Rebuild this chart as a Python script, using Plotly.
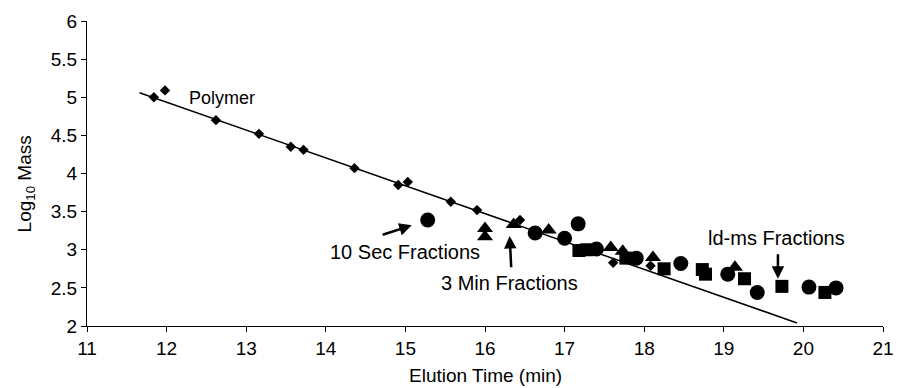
import plotly.graph_objects as go

# Polymer calibration standards
polymer_time = [11.84, 11.98, 12.62, 13.16, 13.56, 13.72, 14.36, 14.91, 15.03,
                15.57, 15.90, 16.44, 17.61, 18.08]
polymer_logm = [5.00, 5.09, 4.70, 4.52, 4.35, 4.31, 4.07, 3.85, 3.89,
                3.63, 3.52, 3.39, 2.83, 2.79]

# 10 s fractions
sec10_time = [15.28, 16.63, 17.00, 17.17, 17.40, 17.90, 18.46, 19.05, 19.42, 20.07, 20.41]
sec10_logm = [3.39, 3.22, 3.15, 3.34, 3.01, 2.89, 2.82, 2.68, 2.44, 2.51, 2.50]

# 3 min fractions
min3_time = [16.00, 16.00, 16.36, 16.80, 17.58, 17.73, 18.11, 19.14]
min3_logm = [3.28, 3.17, 3.33, 3.26, 3.03, 2.98, 2.90, 2.77]

# ld-ms fractions
ldms_time = [17.18, 17.28, 17.77, 18.25, 18.73, 18.77, 19.26, 19.73, 20.27]
ldms_logm = [2.99, 3.00, 2.89, 2.75, 2.74, 2.68, 2.62, 2.52, 2.44]

# Linear fit of the polymer standards
fit_start, fit_end = 11.66, 19.92
fit_slope, fit_intercept = -0.3656, 9.323

FONT = "Liberation Sans, Arial, sans-serif"

fig = go.Figure()

fig.add_trace(go.Scatter(
    x=[fit_start, fit_end],
    y=[fit_intercept + fit_slope * fit_start, fit_intercept + fit_slope * fit_end],
    mode="lines", line=dict(color="black", width=1.5), hoverinfo="skip"))

fig.add_trace(go.Scatter(x=polymer_time, y=polymer_logm, mode="markers",
                         marker=dict(symbol="diamond", size=8, color="black")))
fig.add_trace(go.Scatter(x=sec10_time, y=sec10_logm, mode="markers",
                         marker=dict(symbol="circle", size=15, color="black")))
fig.add_trace(go.Scatter(x=min3_time, y=min3_logm, mode="markers",
                         marker=dict(symbol="triangle-up", size=14, color="black")))
fig.add_trace(go.Scatter(x=ldms_time, y=ldms_logm, mode="markers",
                         marker=dict(symbol="square", size=13, color="black")))

labels = [
    ("Polymer", 12.69, 4.99, 18),
    ("10 Sec Fractions", 15.00, 2.965, 20),
    ("3 Min Fractions", 16.31, 2.57, 20),
    ("ld-ms Fractions", 19.665, 3.16, 20),
]
for text, x, y, size in labels:
    fig.add_annotation(x=x, y=y, text=text, showarrow=False,
                       xanchor="center", yanchor="middle",
                       font=dict(family=FONT, size=size, color="black"))

# arrows: (head x, head y, tail x, tail y)
arrows = [
    (15.08, 3.32, 14.695, 3.19),
    (16.31, 3.18, 16.33, 2.75),
    (19.68, 2.62, 19.68, 2.96),
]
for hx, hy, tx, ty in arrows:
    fig.add_annotation(x=hx, y=hy, ax=tx, ay=ty, xref="x", yref="y",
                       axref="x", ayref="y", text="", showarrow=True,
                       arrowhead=2, arrowsize=1, arrowwidth=2.5,
                       arrowcolor="black")

# axis titles
fig.add_annotation(x=0.5, y=-0.162, xref="paper", yref="paper",
                   text="Elution Time (min)", showarrow=False,
                   xanchor="center", yanchor="middle",
                   font=dict(family=FONT, size=19, color="black"))
fig.add_annotation(x=-0.0768, y=0.467, xref="paper", yref="paper",
                   text="Log<sub>10</sub> Mass", showarrow=False, textangle=-90,
                   xanchor="center", yanchor="middle",
                   font=dict(family=FONT, size=19, color="black"))

fig.update_layout(
    width=905, height=388,
    margin=dict(l=87, r=11, t=19, b=62),
    paper_bgcolor="white", plot_bgcolor="white",
    showlegend=False,
    font=dict(family=FONT, size=19, color="black"),
)
fig.update_xaxes(range=[11, 21], dtick=1, tick0=11, showgrid=False, zeroline=False,
                 showline=True, linecolor="black", linewidth=1,
                 ticks="outside", ticklen=5, tickcolor="black")
fig.update_yaxes(range=[2, 6], dtick=0.5, tick0=2, showgrid=False, zeroline=False,
                 showline=True, linecolor="black", linewidth=1,
                 ticks="outside", ticklen=5, tickcolor="black")

fig.write_html("out.html")
